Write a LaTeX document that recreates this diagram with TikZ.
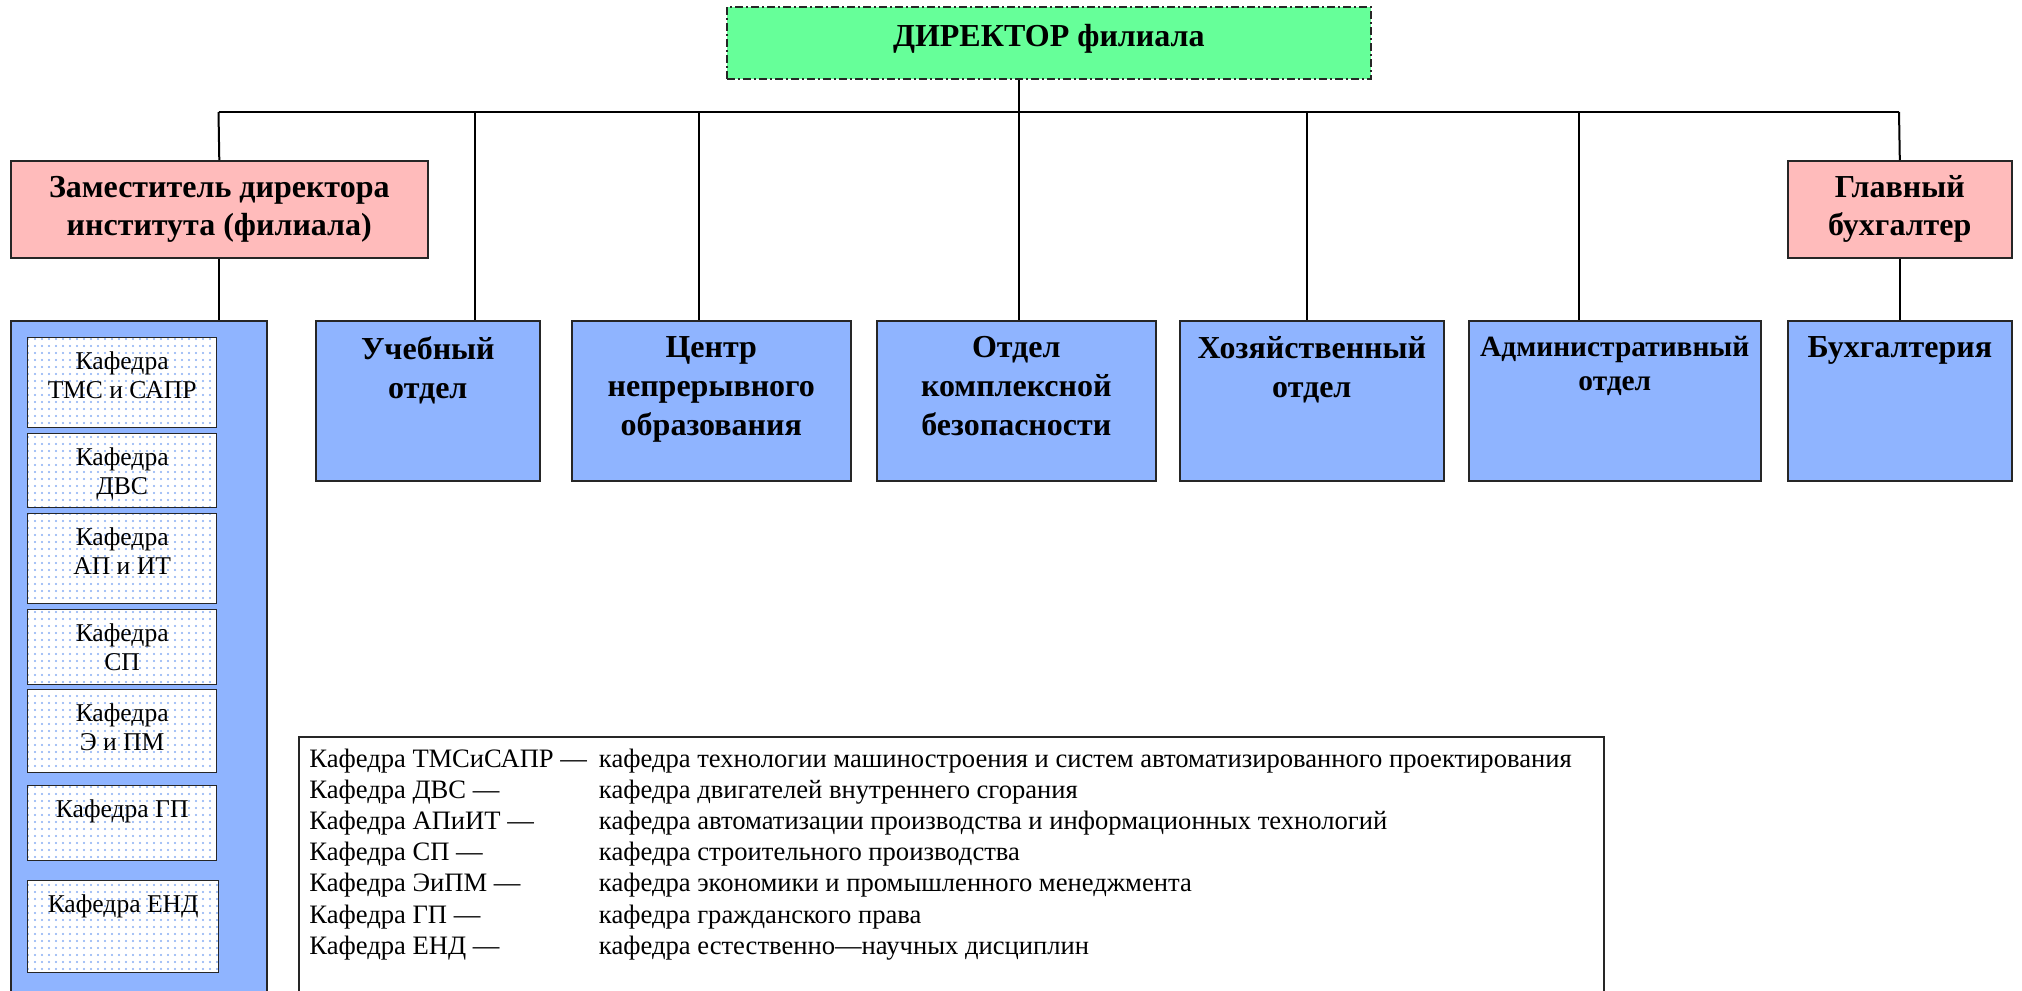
\documentclass[tikz,border=0pt]{standalone}
\usepackage{fontspec}
\setmainfont{Liberation Serif}
\usetikzlibrary{patterns.meta}

\newcommand{\pxl}{0.5pt}
\definecolor{dirgreen}{HTML}{66FF99}
\definecolor{headpink}{HTML}{FFBBBB}
\definecolor{deptblue}{HTML}{8FB4FF}
\definecolor{dotblue}{HTML}{88AEF4}

\begin{document}
\begin{tikzpicture}[
    x=\pxl,
    y=-\pxl,
    box/.style={
        rectangle,
        draw=black!85,
        line width=0.8pt,
        anchor=north west,
        inner sep=0pt
    },
    director/.style={
        box,
        fill=dirgreen,
        dash pattern=on 4pt off 1.5pt on 1pt off 1.5pt,
        font=\fontsize{16}{19}\selectfont\bfseries,
        text height=12pt,
        text depth=8pt
    },
    head/.style={
        box,
        fill=headpink,
        align=center,
        font=\fontsize{16}{19}\selectfont\bfseries
    },
    dept/.style={
        box,
        fill=deptblue
    },
    depttext/.style={
        anchor=north,
        inner sep=0pt,
        align=center,
        yshift=-8pt,
        font=\fontsize{16}{19.5}\selectfont\bfseries
    },
    kafedra/.style={
        box,
        line width=0.7pt,
        preaction={fill=white},
        pattern={Dots[distance=3.5pt, radius=0.6pt]},
        pattern color=dotblue
    },
    kaftext/.style={
        anchor=north,
        inner sep=0pt,
        align=center,
        yshift=-7pt,
        font=\fontsize{12.8}{14.5}\selectfont
    },
    link/.style={
        line width=1pt
    }
]

\useasboundingbox (0,0) rectangle (2022,990);
\clip (0,0) rectangle (2022,990);

% director
\node[director, minimum width=644*\pxl, minimum height=72*\pxl] (dir) at (726,6) {ДИРЕКТОР филиала};

% deputy and chief accountant
\node[head, minimum width=417*\pxl, minimum height=97*\pxl] (dep) at (10,160) {Заместитель директора\\института (филиала)};
\node[head, minimum width=224*\pxl, minimum height=97*\pxl] (chief) at (1787,160) {Главный\\бухгалтер};

% departments
\node[dept, minimum width=256*\pxl, minimum height=700*\pxl] (col) at (10,320) {};
\node[dept, minimum width=224*\pxl, minimum height=160*\pxl] (uch) at (315,320) {};
\node[dept, minimum width=279*\pxl, minimum height=160*\pxl] (cen) at (571,320) {};
\node[dept, minimum width=279*\pxl, minimum height=160*\pxl] (kbz) at (876,320) {};
\node[dept, minimum width=264*\pxl, minimum height=160*\pxl] (hoz) at (1179,320) {};
\node[dept, minimum width=292*\pxl, minimum height=160*\pxl] (adm) at (1468,320) {};
\node[dept, minimum width=224*\pxl, minimum height=160*\pxl] (buh) at (1787,320) {};

\node[depttext] (uchT) at (uch.north) {Учебный\\отдел};
\node[depttext] (cenT) at (cen.north) {Центр\\непрерывного\\образования};
\node[depttext] (kbzT) at (kbz.north) {Отдел\\комплексной\\безопасности};
\node[depttext] (hozT) at (hoz.north) {Хозяйственный\\отдел};
\node[depttext, font=\fontsize{14.7}{16.8}\selectfont\bfseries] (admT) at (adm.north) {Административный\\отдел};
\node[depttext] (buhT) at (buh.north) {Бухгалтерия};

% chairs
\node[kafedra, minimum width=189*\pxl, minimum height=90*\pxl] (k1) at (27,337) {};
\node[kafedra, minimum width=189*\pxl, minimum height=74*\pxl] (k2) at (27,433) {};
\node[kafedra, minimum width=189*\pxl, minimum height=90*\pxl] (k3) at (27,513) {};
\node[kafedra, minimum width=189*\pxl, minimum height=75*\pxl] (k4) at (27,609) {};
\node[kafedra, minimum width=189*\pxl, minimum height=83*\pxl] (k5) at (27,689) {};
\node[kafedra, minimum width=189*\pxl, minimum height=75*\pxl] (k6) at (27,785) {};
\node[kafedra, minimum width=191*\pxl, minimum height=92*\pxl] (k7) at (27,880) {};

\node[kaftext] (k1T) at (k1.north) {Кафедра\\ТМС и САПР};
\node[kaftext] (k2T) at (k2.north) {Кафедра\\ДВС};
\node[kaftext] (k3T) at (k3.north) {Кафедра\\АП и ИТ};
\node[kaftext] (k4T) at (k4.north) {Кафедра\\СП};
\node[kaftext] (k5T) at (k5.north) {Кафедра\\Э и ПМ};
\node[kaftext] (k6T) at (k6.north) {Кафедра ГП};
\node[kaftext] (k7T) at (k7.north) {Кафедра ЕНД};

% legend
\node[box, fill=white, minimum width=1305*\pxl, minimum height=300*\pxl] (legend) at (298,736) {};
\node[anchor=north west, inner sep=0pt, font=\fontsize{13.3}{15.6}\selectfont] (legendT)
    at ([xshift=5.5pt, yshift=-4.4pt]legend.north west) {%
    \begin{tabular}{@{}l@{\hspace{6pt}}l@{}}
    Кафедра ТМСиСАПР --- & кафедра технологии машиностроения и систем автоматизированного проектирования\\
    Кафедра ДВС --- & кафедра двигателей внутреннего сгорания\\
    Кафедра АПиИТ --- & кафедра автоматизации производства и информационных технологий\\
    Кафедра СП --- & кафедра строительного производства\\
    Кафедра ЭиПМ --- & кафедра экономики и промышленного менеджмента\\
    Кафедра ГП --- & кафедра гражданского права\\
    Кафедра ЕНД --- & кафедра естественно---научных дисциплин
    \end{tabular}};

% bus
\coordinate (d1) at (218.5,112);
\coordinate (d2) at (475,112);
\coordinate (d3) at (699,112);
\coordinate (d4) at (1019,112);
\coordinate (d5) at (1307,112);
\coordinate (d6) at (1579,112);
\coordinate (d7) at (1899,112);

\draw[link] (d1) -- (d7);
\draw[link] (dir.south -| d4) -- (d4);

% drops
\draw[link] (d1) -- (dep.north);
\draw[link] (d2) -- (d2 |- uch.north);
\draw[link] (d3) -- (d3 |- cen.north);
\draw[link] (d4) -- (d4 |- kbz.north);
\draw[link] (d5) -- (d5 |- hoz.north);
\draw[link] (d6) -- (d6 |- adm.north);
\draw[link] (d7) -- (chief.north);

\draw[link] (dep.south) -- (dep.south |- col.north);
\draw[link] (chief.south) -- (buh.north);

\end{tikzpicture}
\end{document}
